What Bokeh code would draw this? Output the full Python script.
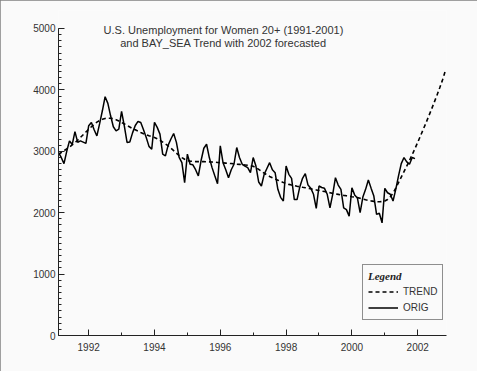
import numpy as np
from bokeh.plotting import figure
from bokeh.models import (Range1d, FixedTicker, Label, Legend, LegendItem, ColumnDataSource)
from bokeh.embed import file_html
from bokeh.resources import INLINE

# ---------------- data (thousands, monthly from Jan 1991) ----------------
start_year = 1991
orig = [
    2980, 2900, 2800, 3000, 3170, 3110, 3320, 3145, 3170, 3150, 3130, 3415,
    3470, 3350, 3250, 3450, 3660, 3889, 3780, 3578, 3400, 3333, 3360, 3650,
    3415, 3145, 3150, 3300, 3420, 3486, 3470, 3350, 3225, 3080, 3034, 3470,
    3390, 3280, 2953, 2925, 3100, 3200, 3290, 3145, 2900, 2815, 2490, 2953,
    2790, 2780, 2700, 2598, 2850, 3050, 3115, 2898, 2734, 2600, 2472, 3088,
    2815, 2700, 2570, 2700, 2789, 3061, 2900, 2789, 2760, 2734, 2652, 2898,
    2760, 2500, 2435, 2625, 2720, 2815, 2700, 2652, 2380, 2250, 2190, 2761,
    2625, 2560, 2214, 2214, 2420, 2560, 2636, 2450, 2400, 2300, 2070, 2435,
    2410, 2397, 2300, 2080, 2300, 2570, 2450, 2380, 2080, 2050, 1944, 2407,
    2290, 2240, 2000, 2255, 2380, 2533, 2400, 2271, 1972, 1990, 1835, 2397,
    2325, 2300, 2190, 2380, 2600, 2800, 2898, 2827, 2790, 2898, 2880,
]
trend = [
    2950, 2980, 3010, 3040, 3070, 3105, 3140, 3180, 3225, 3270, 3315, 3360,
    3400, 3440, 3475, 3500, 3520, 3535, 3540, 3538, 3530, 3515, 3495, 3470,
    3445, 3420, 3395, 3370, 3350, 3330, 3305, 3285, 3268, 3252, 3238, 3225,
    3205, 3180, 3150, 3120, 3088, 3050, 3010, 2970, 2930, 2898, 2870, 2850,
    2840, 2835, 2832, 2832, 2832, 2832, 2830, 2828, 2825, 2822, 2818, 2815,
    2812, 2808, 2804, 2800, 2795, 2790, 2787, 2783, 2778, 2772, 2765, 2755,
    2735, 2705, 2675, 2645, 2615, 2590, 2570, 2550, 2530, 2510, 2490, 2475,
    2461, 2450, 2440, 2430, 2422, 2414, 2407, 2398, 2389, 2380, 2371, 2362,
    2353, 2344, 2335, 2325, 2315, 2306, 2298, 2290, 2282, 2275, 2268, 2261,
    2255, 2245, 2235, 2222, 2210, 2200, 2192, 2185, 2180, 2178, 2180, 2190,
    2215, 2260, 2320, 2400, 2490, 2580, 2670, 2760, 2850, 2945, 3045, 3145,
    3250, 3355, 3460, 3570, 3680, 3795, 3910, 4030, 4155, 4300,
]
x_ticks = [1992, 1994, 1996, 1998, 2000, 2002]
x_minor = [1993, 1995, 1997, 1999, 2001]
y_ticks = [0, 1000, 2000, 3000, 4000, 5000]
title_lines = ["U.S. Unemployment for Women 20+ (1991-2001)",
               "and BAY_SEA Trend with 2002 forecasted"]

t_orig = start_year + (np.arange(len(orig)) + 1) / 12.0
t_trend = start_year + (np.arange(len(trend)) + 1) / 12.0

BG = "#fafafa"
FONT = "Liberation Sans"
TXT = "#333333"

p = figure(width=477, height=371, output_backend="svg", toolbar_location=None,
           x_range=Range1d(1991.0833, 2002.875), y_range=Range1d(0, 5293),
           min_border_left=58, min_border_right=31, min_border_top=10, min_border_bottom=36,
           background_fill_color=BG, border_fill_color=BG)
p.outline_line_color = None
p.grid.visible = False
p.styles = {"outline": "2px solid #808080", "outline-offset": "-2px"}

src_o = ColumnDataSource(dict(x=t_orig, y=orig))
src_t = ColumnDataSource(dict(x=t_trend, y=trend))
r_orig = p.line("x", "y", source=src_o, line_color="black", line_width=1.5)
r_trend = p.line("x", "y", source=src_t, line_color="black", line_width=1.6, line_dash="4 3")

for ax in (p.xaxis[0], p.yaxis[0]):
    ax.axis_line_color = "#222222"
    ax.major_tick_line_color = "#222222"
    ax.minor_tick_line_color = "#222222"
    ax.major_tick_out = 0
    ax.minor_tick_out = 0
    ax.major_label_text_font = FONT
    ax.major_label_text_font_size = "10px"
    ax.major_label_text_color = TXT

p.xaxis.ticker = FixedTicker(ticks=x_ticks, minor_ticks=x_minor)
p.xaxis.major_tick_in = 6
p.xaxis.minor_tick_in = 3
p.xaxis.major_label_standoff = 7

p.yaxis.ticker = FixedTicker(ticks=y_ticks, minor_ticks=list(range(0, 5001, 100)))
p.yaxis.bounds = (0, 5000)
p.yaxis.major_tick_in = 6
p.yaxis.minor_tick_in = 3
p.yaxis.major_label_standoff = 3

for i, line in enumerate(title_lines):
    p.add_layout(Label(x=165, y=306 - 13 * i, x_units="screen", y_units="screen",
                       text=line, text_align="center", text_baseline="middle",
                       text_font=FONT, text_font_size="11px", text_color=TXT))

legend = Legend(items=[LegendItem(label="TREND", renderers=[r_trend]),
                       LegendItem(label="ORIG", renderers=[r_orig])],
                title="Legend", location=(304, 15),
                title_text_font="Liberation Serif", title_text_font_style="bold italic",
                title_text_font_size="11px", title_text_color="#222222", title_standoff=3,
                label_text_font=FONT, label_text_font_size="10px", label_text_color=TXT,
                glyph_width=30, glyph_height=13, label_height=13, label_standoff=5,
                spacing=3, padding=5, margin=0,
                border_line_color="#222222", border_line_width=1,
                background_fill_color=BG, background_fill_alpha=1.0)
p.add_layout(legend)

open("out.html", "w").write(file_html(p, INLINE))
